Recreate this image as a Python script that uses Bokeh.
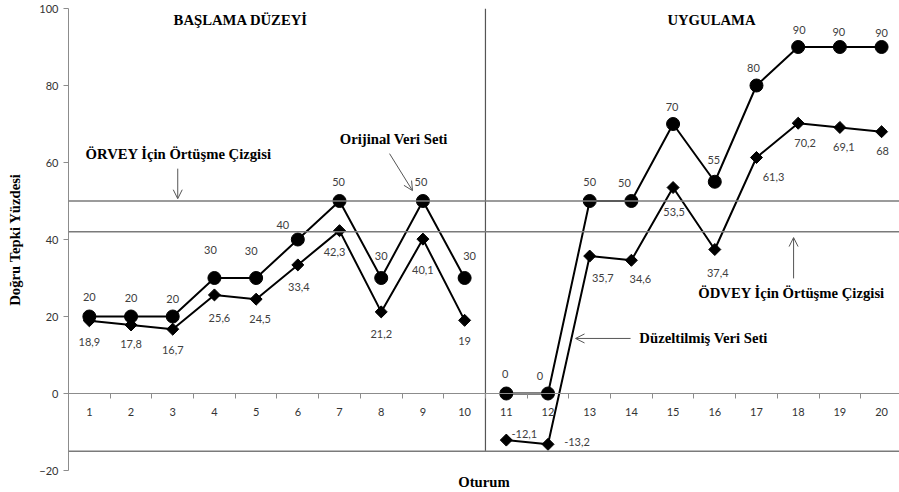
import numpy as np
from bokeh.plotting import figure
from bokeh.models import (Range1d, LinearAxis, FixedTicker, Span, Label, Arrow,
                          OpenHead, ColumnDataSource)
from bokeh.core.properties import value
from bokeh.embed import file_html
from bokeh.resources import INLINE

# ---------------- data ----------------
sessions = list(range(1, 21))
original = [20, 20, 20, 30, 30, 40, 50, 30, 50, 30,
            0, 0, 50, 50, 70, 55, 80, 90, 90, 90]
corrected = [18.9, 17.8, 16.7, 25.6, 24.5, 33.4, 42.3, 21.2, 40.1, 19,
             -12.1, -13.2, 35.7, 34.6, 53.5, 37.4, 61.3, 70.2, 69.1, 68]
original_labels = ["20", "20", "20", "30", "30", "40", "50", "30", "50", "30",
                   "0", "0", "50", "50", "70", "55", "80", "90", "90", "90"]
corrected_labels = ["18,9", "17,8", "16,7", "25,6", "24,5", "33,4", "42,3", "21,2", "40,1", "19",
                    "-12,1", "-13,2", "35,7", "34,6", "53,5", "37,4", "61,3", "70,2", "69,1", "68"]
y_ticks = [-20, 0, 20, 40, 60, 80, 100]
phase_titles = ["BAŞLAMA DÜZEYİ", "UYGULAMA"]
y_title = "Doğru Tepki Yüzdesi"
x_title = "Oturum"
orvey_level = 50
odvey_level = 42
lower_limit = -15
phase_change = 10.5
baseline_n = 10

# label placement (screen pixel offsets: dx right, dy down)
orig_dx = [0, 0, 0, -4, -5, -15, -1, 0, -2, 5, -1, -8, 0, -7, -1, -1, -3, 1, -1, 0]
orig_dy = [-20, -19, -18, -28, -27, -15, -19, -22, -19, -22, -20, -18, -19, -18, -17, -22, -18, -17, -15, -14]
corr_dx = [0, 0, 0, 5, 4, 1, -5, 0, 0, 0, 18, 29, 13, 9, 1, 3, 17, 7, 4, 1]
corr_dy = [21, 19, 21, 23, 20, 22, 21, 22, 31, 21, -6, -2, 22, 19, 24, 23, 20, 20, 20, 19]

SERIF = "'Liberation Serif', 'Times New Roman', serif"
TITLE_SIZE = "14.7px"
GRAY_LINE = "#7a7a7a"
AXIS_GRAY = "#8c8c8c"

p = figure(width=899, height=492,
           x_range=Range1d(0.5, 20.43), y_range=Range1d(-20, 100),
           output_backend="svg", toolbar_location=None, x_axis_location=None,
           min_border_left=68, min_border_right=0, min_border_top=8, min_border_bottom=22)
p.grid.visible = False
p.outline_line_color = None
p.background_fill_color = "white"
p.border_fill_color = "white"

# y axis
ya = p.yaxis[0]
ya.ticker = FixedTicker(ticks=y_ticks)
ya.major_tick_out = 5
ya.major_tick_in = 0
ya.minor_tick_line_color = None
ya.axis_line_color = AXIS_GRAY
ya.major_tick_line_color = AXIS_GRAY
ya.major_label_text_font = "Lato"
ya.major_label_text_font_size = "11px"
ya.major_label_text_color = "#333333"
ya.major_label_standoff = 5
ya.axis_label = y_title
ya.axis_label_text_font = SERIF
ya.axis_label_text_font_style = "bold"
ya.axis_label_text_font_size = TITLE_SIZE
ya.axis_label_text_color = "black"
ya.axis_label_standoff = 13

# x axis at y=0: boundary ticks + centered labels
boundaries = [s - 0.5 for s in sessions]
xa_ticks = LinearAxis(fixed_location=0, ticker=FixedTicker(ticks=boundaries))
xa_ticks.major_tick_in = 0
xa_ticks.major_tick_out = 5
xa_ticks.minor_tick_line_color = None
xa_ticks.axis_line_color = AXIS_GRAY
xa_ticks.major_tick_line_color = AXIS_GRAY
xa_ticks.major_label_text_alpha = 0
p.add_layout(xa_ticks, "below")

xa_lab = LinearAxis(fixed_location=0, ticker=FixedTicker(ticks=sessions))
xa_lab.major_tick_in = 0
xa_lab.major_tick_out = 0
xa_lab.minor_tick_line_color = None
xa_lab.axis_line_color = None
xa_lab.major_tick_line_color = None
xa_lab.major_label_standoff = 14
xa_lab.major_label_text_font = "Lato"
xa_lab.major_label_text_font_size = "11px"
xa_lab.major_label_text_color = "#333333"
p.add_layout(xa_lab, "below")

# x title carried by an otherwise empty axis below the frame
xa_title = LinearAxis(ticker=FixedTicker(ticks=[]))
xa_title.axis_line_color = None
xa_title.major_tick_line_color = None
xa_title.minor_tick_line_color = None
xa_title.major_tick_out = 0
xa_title.major_tick_in = 0
xa_title.major_label_text_font_size = "0px"
xa_title.major_label_standoff = 0
xa_title.axis_label = x_title
xa_title.axis_label_text_font = SERIF
xa_title.axis_label_text_font_style = "bold"
xa_title.axis_label_text_font_size = TITLE_SIZE
xa_title.axis_label_text_color = "black"
xa_title.axis_label_standoff = 3
p.add_layout(xa_title, "below")

# reference lines
for lvl in (orvey_level, odvey_level, lower_limit):
    p.add_layout(Span(location=lvl, dimension="width", line_color=GRAY_LINE, line_width=1.5))
p.segment(x0=[phase_change], y0=[lower_limit], x1=[phase_change], y1=[100],
          line_color="#555555", line_width=1.2)

# series
for sl in (slice(0, baseline_n), slice(baseline_n, None)):
    p.line(sessions[sl], original[sl], line_color="black", line_width=2)
    p.line(sessions[sl], corrected[sl], line_color="black", line_width=2)

p.scatter(sessions, original, marker="circle", size=13, color="black")
p.scatter(sessions, corrected, marker="square", angle=np.pi / 4, size=8.5, color="black")

src_o = ColumnDataSource(dict(x=sessions, y=original, t=original_labels, dx=orig_dx, dy=orig_dy))
src_c = ColumnDataSource(dict(x=sessions, y=corrected, t=corrected_labels, dx=corr_dx, dy=corr_dy))
for src in (src_o, src_c):
    p.text(x="x", y="y", text="t", x_offset="dx", y_offset="dy", source=src,
           text_font=value("Lato"), text_font_size="11px", text_color="#404040",
           text_align="center", text_baseline="middle")

# annotations (data coordinates)
def note(txt, x, y):
    p.add_layout(Label(x=x, y=y, text=txt, text_font=SERIF, text_font_style="bold",
                       text_font_size=TITLE_SIZE, text_color="black",
                       text_align="center", text_baseline="middle"))

note(phase_titles[0], 4.63, 96.9)
note(phase_titles[1], 15.92, 96.9)
note("ÖRVEY İçin Örtüşme Çizgisi", 3.14, 62.3)
note("Orijinal Veri Seti", 8.3, 66.0)
note("ÖDVEY İçin Örtüşme Çizgisi", 17.84, 26.0)
note("Düzeltilmiş Veri Seti", 15.73, 14.5)

def arrow(x0, y0, x1, y1):
    p.add_layout(Arrow(x_start=x0, y_start=y0, x_end=x1, y_end=y1,
                       line_color="#555555", line_width=1,
                       end=OpenHead(size=9, line_color="#555555", line_width=1)))

arrow(3.12, 58.4, 3.12, 50.6)
arrow(8.2, 62.3, 8.75, 52.7)
arrow(17.89, 29.9, 17.89, 40.5)
arrow(13.98, 14.3, 12.66, 14.3)

open("out.html", "w").write(file_html(p, INLINE))
